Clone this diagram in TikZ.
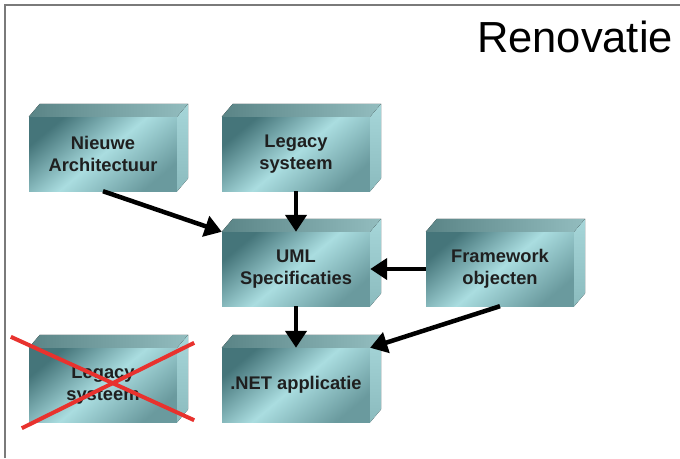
\documentclass[tikz,border=0pt]{standalone}
\usepackage{fontspec}
\setmainfont{Liberation Sans}
\usetikzlibrary{arrows.meta}

\definecolor{boxdark}{HTML}{45757A}
\definecolor{boxlight}{HTML}{AADDE0}
\definecolor{boxmid}{HTML}{6A9A9E}
\definecolor{topdark}{HTML}{5A8486}
\definecolor{toplight}{HTML}{93BDBF}
\definecolor{sidetop}{HTML}{A6D6D9}
\definecolor{sidebot}{HTML}{8BBBBE}
\definecolor{framegray}{HTML}{7A7A7A}
\definecolor{crossred}{HTML}{E8322E}

\tikzset{
    block/.style={minimum width=148pt, minimum height=74pt, inner sep=0pt,
        align=center, top color=boxdark, bottom color=boxmid,
        middle color=boxlight, shading angle=40,
        font=\fontsize{18.3}{22}\selectfont\bfseries, text=black!88},
    topface/.style={left color=topdark, right color=toplight},
    sideface/.style={top color=sidetop, bottom color=sidebot},
    flow/.style={-{Triangle[length=17pt,width=21pt]}, line width=4.5pt},
    crossline/.style={crossred, line width=4pt}
}

\begin{document}
\begin{tikzpicture}[x=1pt, y=-1pt]
        \useasboundingbox (0, 0) rectangle (680, 458);
        \draw[framegray, line width=1.5pt] (5, 458) -- (5, 5) -- (680, 5);
        \node[font=\fontsize{43.5}{50}\selectfont, anchor=base] (title) at (575, 52) 
        {Renovatie};
        % front faces
        \node[block] (nieuw) at (103, 154) {Nieuwe\\Architectuur};
        \node[block] (legacy) at (296, 154) {Legacy\\systeem};
        \node[block] (uml) at (296, 269) {UML\\Specificaties};
        \node[block] (framework) at (500, 269) {Framework\\objecten};
        \node[block] (oud) at (103, 385) {Legacy\\systeem};
        \node[block] (net) at (296, 385) {.NET applicatie};
        % top and side faces
        \foreach \b in {nieuw, legacy, uml, framework, oud, net} {
            \fill[topface] (\b.north west) -- ++(11, -13) 
            -- ([shift={(11, -13)}]\b.north east) -- (\b.north east) -- cycle;
            \fill[sideface] (\b.north east) -- ++(11, -13) 
            -- ([shift={(11, -13)}]\b.south east) -- (\b.south east) -- cycle;
        }
        \draw[flow] (nieuw.south) -- (uml.north west);
        \draw[flow] (legacy.south) -- (uml.north);
        \draw[flow] (framework.west) -- (uml.east);
        \draw[flow] (uml.south) -- (net.north);
        \draw[flow] (framework.south) -- (net.north east);
        % crossed out
        \draw[crossline] ([shift={(-18, -11)}]oud.north west) 
        -- ([shift={(17, -2)}]oud.south east);
        \draw[crossline] ([shift={(-7, 6)}]oud.south west) 
        -- ([shift={(17, -5)}]oud.north east);
    \end{tikzpicture}
\end{document}
